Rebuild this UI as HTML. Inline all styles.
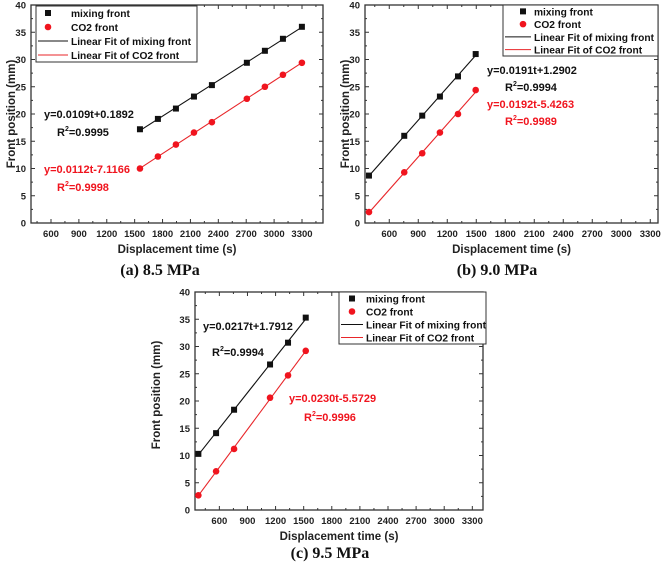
<!DOCTYPE html>
<html><head><meta charset="utf-8">
<style>
body{margin:0;background:#fff;}
svg{display:block;font-family:"Liberation Sans",Arial,sans-serif;}
.tk{font-size:9.5px;font-weight:bold;fill:#222;}
.ax{font-size:11.5px;font-weight:bold;fill:#222;}
.lg{font-size:10.2px;font-weight:bold;fill:#111;}
.eq{font-size:11px;font-weight:bold;}
.cap{font-family:"Liberation Serif",serif;font-size:16px;font-weight:bold;fill:#111;}
</style></head>
<body>
<svg id="fig" width="661" height="567" viewBox="0 0 661 567" xmlns="http://www.w3.org/2000/svg"></svg>
<script>
// Panel (a) 8.5 MPa
const aTime=[1557,1750,1944,2138,2331,2707,2901,3095,3299];
const aMix=[17.2,19.1,21.0,23.2,25.3,29.4,31.6,33.8,36.0];
const aCO2=[10.0,12.2,14.4,16.6,18.5,22.8,25.0,27.2,29.4];
// Panel (b) 9.0 MPa
const bTime=[390,755,941,1124,1311,1494];
const bMix=[8.7,16.0,19.7,23.2,26.9,31.0];
const bCO2=[2.0,9.3,12.8,16.6,20.0,24.4];
// Panel (c) 9.5 MPa
const cTime=[376,565,757,1141,1333,1522];
const cMix=[10.3,14.1,18.4,26.7,30.7,35.3];
const cCO2=[2.7,7.1,11.2,20.6,24.7,29.2];
const xTicks=[600,900,1200,1500,1800,2100,2400,2700,3000,3300];
const yTicks=[0,5,10,15,20,25,30,35,40];
const legendLabelsA=["mixing front","CO2 front","Linear Fit of mixing front","Linear Fit of CO2 front"];
const legendLabelsBC=["mixing front","CO2 front","Linear Fit of mixing front","Linear Fit of CO2 front"];

const NS="http://www.w3.org/2000/svg";
const svg=document.getElementById('fig');
function mk(tag,attrs,parent,text){const e=document.createElementNS(NS,tag);for(const k in attrs)e.setAttribute(k,attrs[k]);if(text!==undefined)e.textContent=text;(parent||svg).appendChild(e);return e;}
function fit(xs,ys){const n=xs.length;let sx=0,sy=0,sxx=0,sxy=0;for(let i=0;i<n;i++){sx+=xs[i];sy+=ys[i];sxx+=xs[i]*xs[i];sxy+=xs[i]*ys[i];}const m=(n*sxy-sx*sy)/(n*sxx-sx*sx);return [m,(sy-m*sx)/n];}

function panel(p){
  const g=mk('g',{});
  
  
  const X=t=>p.x0+(t-p.tmin)/(p.tmax-p.tmin)*(p.x1-p.x0);
  const Y=v=>p.y1-v/40*(p.y1-p.y0);
  const box=mk('rect',{x:p.x0,y:p.y0,width:p.x1-p.x0,height:p.y1-p.y0,fill:'none',stroke:'#333','stroke-width':1.3},g);
  
  for(let i=0;i<yTicks.length;i++){const v=yTicks[i],y=Y(v);
    mk('line',{x1:p.x0,x2:p.x0+4,y1:y,y2:y,stroke:'#333'},g);
    mk('line',{x1:p.x1,x2:p.x1-4,y1:y,y2:y,stroke:'#333'},g);
    if(i<yTicks.length-1){const ym=Y(v+2.5);mk('line',{x1:p.x0,x2:p.x0+2,y1:ym,y2:ym,stroke:'#333'},g);mk('line',{x1:p.x1,x2:p.x1-2,y1:ym,y2:ym,stroke:'#333'},g);}
    const t=mk('text',{x:p.x0-5,y:y+3.5,'text-anchor':'end',class:'tk'},g,String(v));
    }
  for(let t=Math.ceil(p.tmin/150)*150;t<=p.tmax;t+=150){const x=X(t);const major=t%300===0;
    mk('line',{x1:x,x2:x,y1:p.y1,y2:p.y1-(major?4:2),stroke:'#333'},g);
    mk('line',{x1:x,x2:x,y1:p.y0,y2:p.y0+(major?4:2),stroke:'#333'},g);}
  for(const v of xTicks){const tx=mk('text',{x:X(v),y:p.y1+14,'text-anchor':'middle',class:'tk'},g,String(v));
    }
  const xt=mk('text',{x:(p.x0+p.x1)/2,y:p.y1+30,'text-anchor':'middle',class:'ax'},g,'Displacement time (s)');
  
  const yx=p.x0-p.yoff,yy=(p.y0+p.y1)/2-p.ydy;
  const yt=mk('text',{x:yx,y:yy,'text-anchor':'middle',class:'ax',transform:`rotate(-90 ${yx} ${yy})`},g,'Front position (mm)');
  
  [[p.t,p.mix,'#111'],[p.t,p.co2,'#e8262a']].forEach(([xs,ys,c],k)=>{const [m,b]=fit(xs,ys);const ta=xs[0],tb=xs[xs.length-1];
    const l=mk('line',{x1:X(ta),y1:Y(m*ta+b),x2:X(tb),y2:Y(m*tb+b),stroke:c,'stroke-width':1.1},g);
    });
  for(let i=0;i<p.t.length;i++){
    const s=mk('rect',{x:X(p.t[i])-3,y:Y(p.mix[i])-3,width:6,height:6,fill:'#111'},g);
    
    const c=mk('circle',{cx:X(p.t[i]),cy:Y(p.co2[i]),r:3.3,fill:'#f0141e'},g);
    }
  const L=p.leg;
  const lg=mk('g',{},g);
  mk('rect',{x:L.x,y:L.y,width:L.w,height:L.h,fill:'#fff',stroke:'#333','stroke-width':1},lg);
  const rh=L.h/4;
  for(let i=0;i<4;i++){const cy=L.y+rh*(i+0.5);const sx=L.x+L.sym;
    if(i===0)mk('rect',{x:sx-3,y:cy-3,width:6,height:6,fill:'#111'},lg);
    else if(i===1)mk('circle',{cx:sx,cy:cy,r:3.3,fill:'#f0141e'},lg);
    else mk('line',{x1:L.x+2,x2:L.x+L.tx-3,y1:cy,y2:cy,stroke:i===2?'#111':'#e8262a','stroke-width':1.1},lg);
    const e=mk('text',{x:L.x+L.tx,y:cy+4,class:'lg'},lg,p.labels[i]);
    }
  p.eqs.forEach(q=>{const e=mk('text',{x:q[0],y:q[1],class:'eq',fill:q[3]},g);
    if(q[2].startsWith('R')){mk('tspan',{},e,'R');mk('tspan',{dy:-5,'font-size':'7px'},e,'2');mk('tspan',{dy:5},e,q[2].slice(1));}else e.textContent=q[2];});
  const cp=mk('text',{x:p.cap[0],y:p.cap[1],'text-anchor':'middle',class:'cap'},g,p.cap[2]);
  
}

panel({name:'panel-a-8-5-mpa',x0:31,x1:323,y0:5,y1:223,tmin:385,tmax:3526,yoff:16,ydy:0,t:aTime,mix:aMix,co2:aCO2,
  leg:{x:36,y:6,w:161,h:56,sym:12,tx:35},labels:legendLabelsA,
  eqs:[[44,118,'y=0.0109t+0.1892','#111'],[57,136,'R=0.9995','#111'],[44,173,'y=0.0112t-7.1166','#f0141e'],[57,191,'R=0.9998','#f0141e']],
  cap:[160,275,'(a) 8.5 MPa']});
panel({name:'panel-b-9-0-mpa',x0:365,x1:658,y0:5,y1:223,tmin:349,tmax:3380,yoff:16,ydy:0,t:bTime,mix:bMix,co2:bCO2,
  leg:{x:503,y:5,w:155,h:51,sym:20,tx:31},labels:legendLabelsBC,
  eqs:[[487,74,'y=0.0191t+1.2902','#111'],[505,91,'R=0.9994','#111'],[487,108,'y=0.0192t-5.4263','#f0141e'],[505,125,'R=0.9989','#f0141e']],
  cap:[497,275,'(b) 9.0 MPa']});
panel({name:'panel-c-9-5-mpa',x0:195,x1:483,y0:292,y1:510,tmin:340,tmax:3414,yoff:35,ydy:6,t:cTime,mix:cMix,co2:cCO2,
  leg:{x:339,y:292,w:147,h:52,sym:13,tx:27},labels:legendLabelsBC,
  eqs:[[203,330,'y=0.0217t+1.7912','#111'],[212,356,'R=0.9994','#111'],[289,402,'y=0.0230t-5.5729','#f0141e'],[304,421,'R=0.9996','#f0141e']],
  cap:[330,558,'(c) 9.5 MPa']});
</script>
</body></html>
